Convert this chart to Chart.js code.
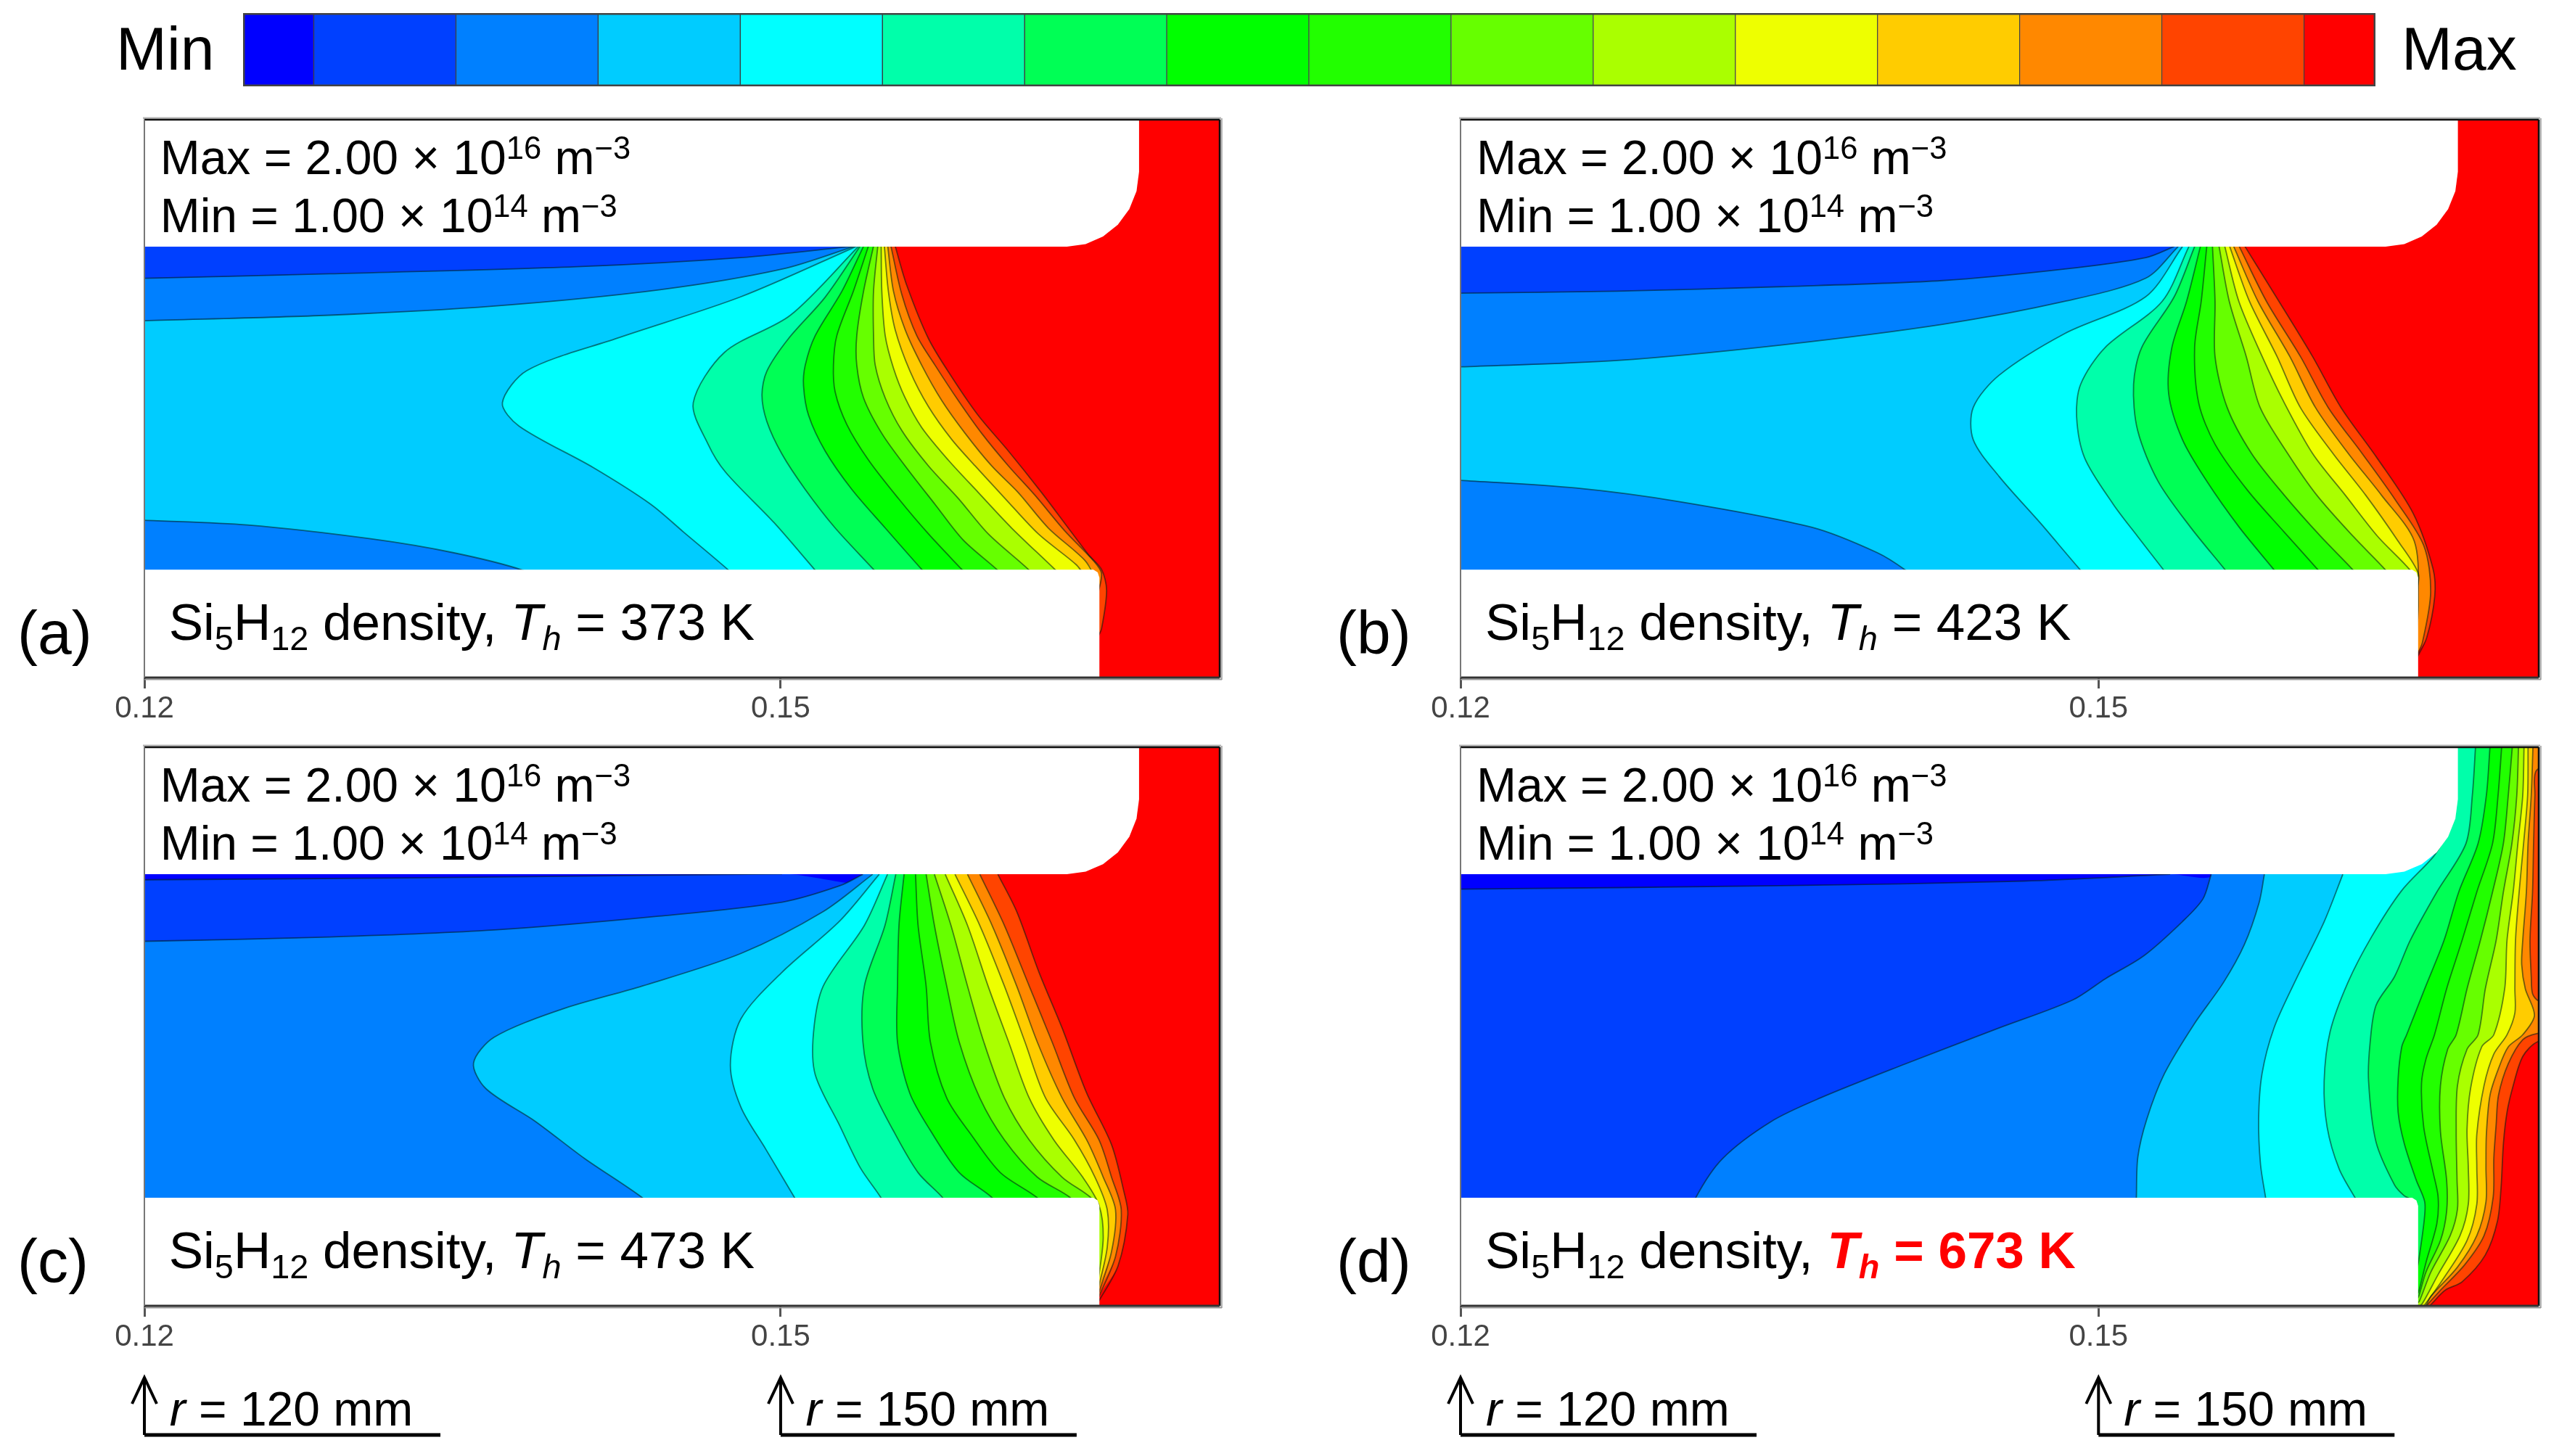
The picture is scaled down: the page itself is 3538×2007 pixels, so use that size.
<!DOCTYPE html>
<html>
<head>
<meta charset="utf-8">
<style>
  html, body { margin: 0; background: #fff; }
  #page { position: relative; width: 3538px; height: 2007px; overflow: hidden; font-family: "Liberation Sans", Arial, sans-serif; color: #000; }
  canvas { position: absolute; }
  .txt { position: absolute; white-space: nowrap; line-height: 1; }
  .txt sup { font-size: .66em; line-height: 0; vertical-align: .48em; }
  .txt sub { font-size: .66em; line-height: 0; vertical-align: -.3em; }
  .hot { color: #ff0000; font-weight: bold; }
</style>
</head>
<body>
<div id="page"></div>
<script src="https://cdn.jsdelivr.net/npm/chart.js@4/dist/chart.umd.js"></script>
<script>
/* =========================
   Data (r in mm, z in mm)
========================= */
const levelColors = ["#0000ff", "#0040ff", "#0080ff", "#00ccff", "#00ffff", "#00ffaa", "#00ff55", "#00ff00",
  "#22ff00", "#66ff00", "#aaff00", "#eeff00", "#ffcc00", "#ff8800", "#ff4400", "#ff0000"];
const barSpans = [0.5, 1, 1, 1, 1, 1, 1, 1, 1, 1, 1, 1, 1, 1, 1, 0.5];
const tickValues = [120, 150];
const arrowMarks = [120, 150];

const topWall = [[100, 20.28], [163.5, 20.28], [164.38, 20.4], [165.2, 20.75], [165.9, 21.31], [166.44, 22.04], [166.78, 22.89], [166.9, 23.8], [166.9, 40], [100, 40]];
const bottomWall = [[100, 5.08], [164.75, 5.08], [164.95, 4.95], [165.03, 4.7], [165.03, -10], [100, -10]];

// panel (a) 373 K
const a1 = [[120, 18.79], [128.73, 19.0], [140.4, 19.33], [148.1, 19.76], [153.43, 20.3]];
const a2up = [[120, 16.79], [128.73, 17.05], [136.5, 17.48], [144.25, 18.24], [150.07, 19.22], [153.5, 20.3]];
const a2low = [[120, 7.4], [124.85, 7.18], [130.67, 6.53], [134.55, 5.88], [137.85, 5.05], [138.8, 4.47]];
const a3 = [[153.6, 20.3], [148.13, 17.92], [142.3, 15.97], [138.04, 14.45], [136.88, 12.93], [137.66, 11.84], [141.15, 9.89], [143.87, 8.16], [145.42, 6.85], [147.55, 5.05], [148.2, 4.4]];
const a4 = [[153.68, 20.3], [150.46, 17.05], [147.36, 15.31], [145.88, 12.93], [146.58, 10.98], [147.4, 9.67], [149.69, 7.29], [151.63, 5.05], [152.2, 4.4]];
const a5 = [[153.75, 20.3], [152.1, 17.9], [150.37, 15.95], [149.35, 14.42], [149.12, 13.3], [149.35, 12.05], [150.06, 10.52], [151.16, 8.85], [152.57, 7.04], [154.38, 5.09], [155, 4.4]];
const a6 = [[153.91, 20.3], [152.89, 18.18], [151.63, 16.09], [151.16, 14.7], [151.08, 13.72], [151.32, 12.33], [152.1, 10.66], [153.36, 8.85], [154.93, 7.04], [156.65, 5.09], [157.3, 4.4]];
const a7 = [[154.14, 20.3], [153.43, 18.18], [152.65, 16.09], [152.49, 14.7], [152.57, 13.44], [153.12, 11.91], [154.14, 10.24], [155.55, 8.43], [156.97, 6.76], [158.54, 5.09], [159.2, 4.4]];
const a8 = [[154.38, 20.3], [153.91, 18.18], [153.59, 16.09], [153.59, 14.7], [153.91, 13.16], [154.77, 11.49], [155.87, 9.96], [157.28, 8.15], [158.6, 6.48], [160.19, 5.09], [160.9, 4.4]];
const a9 = [[154.58, 20.3], [154.38, 18.18], [154.38, 16.09], [154.46, 14.7], [154.93, 13.16], [155.71, 11.63], [156.97, 9.96], [158.38, 8.43], [159.79, 6.76], [161.68, 5.09], [162.3, 4.4]];
const a10 = [[154.74, 20.3], [154.77, 18.18], [154.93, 16.09], [155.32, 14.56], [155.87, 13.16], [156.65, 11.77], [157.9, 10.24], [159.32, 8.71], [160.89, 7.04], [162.93, 5.09], [163.6, 4.4]];
const a11 = [[154.89, 20.3], [155.08, 18.18], [155.4, 16.37], [156.1, 14.42], [156.97, 12.75], [158.07, 11.2], [159.17, 9.96], [160.58, 8.43], [162.15, 6.76], [163.95, 5.3], [164.4, 4.7], [164.9, 4.2]];
const a12 = [[155.05, 20.3], [155.32, 18.18], [155.87, 16.37], [156.65, 14.7], [157.6, 13.03], [158.7, 11.49], [159.95, 9.96], [161.2, 8.71], [162.62, 7.04], [164.35, 5.51], [164.9, 4.6]];
const a13 = [[155.2, 20.3], [155.71, 18.04], [156.42, 16.09], [157.28, 14.7], [158.38, 13.03], [159.48, 11.49], [160.74, 9.96], [162, 8.57], [163.4, 6.9], [164.74, 5.51], [165.13, 4.9], [164.95, 3.9]];
const a14 = [[155.4, 20.3], [155.95, 18.45], [156.97, 15.95], [158.07, 14.14], [159.32, 12.33], [160.74, 10.66], [162.3, 8.71], [163.56, 7.04], [164.5, 5.8], [165.13, 5.09], [165.37, 4.1], [165.13, 2.3], [164.95, 1.9]];

// panel (b) 423 K
const b1 = [[120, 18.09], [127.35, 18.18], [135, 18.39], [142.66, 18.68], [148.4, 19.22], [152.22, 19.76], [153.56, 20.28]];
const b2up = [[120, 14.62], [127.35, 14.92], [135, 15.64], [142.66, 16.62], [148.4, 17.7], [152.22, 18.79], [153.75, 20.28]];
const b2low = [[120, 9.28], [125.43, 8.92], [130.41, 8.26], [136.53, 7.07], [139.59, 5.88], [140.93, 5.05], [141.5, 4.5]];
const b3 = [[153.95, 20.28], [152.22, 17.92], [148.4, 16.18], [145.33, 14.23], [144.11, 12.71], [144.11, 11.19], [145.33, 9.46], [147.25, 7.29], [149.16, 5.05], [149.7, 4.5]];
const b4 = [[154.25, 20.28], [152.99, 17.7], [150.31, 15.53], [149.16, 13.8], [148.97, 12.28], [149.35, 10.33], [150.69, 8.16], [151.84, 6.64], [153.07, 5.05], [153.5, 4.5]];
const b5 = [[154.52, 20.28], [153.56, 17.92], [152.03, 15.53], [151.65, 13.8], [151.84, 11.63], [152.8, 9.24], [154.33, 7.07], [155.97, 5.05], [156.4, 4.5]];
const b6 = [[154.79, 20.28], [154.14, 17.7], [153.45, 15.53], [153.3, 13.36], [153.95, 11.19], [155.09, 9.24], [156.62, 7.07], [158.27, 5.05], [158.7, 4.5]];
const b7 = [[155.09, 20.28], [154.83, 17.7], [154.52, 15.53], [154.71, 12.93], [155.48, 10.98], [157.01, 8.81], [158.73, 6.85], [160.34, 5.05], [160.8, 4.5]];
const b8 = [[155.36, 20.28], [155.48, 17.7], [155.48, 15.1], [156.05, 12.71], [157.2, 10.54], [158.73, 8.59], [160.45, 6.64], [161.98, 5.05], [162.4, 4.5]];
const b9 = [[155.67, 20.28], [156.15, 17.7], [156.95, 15.1], [157.6, 12.71], [158.9, 10.54], [160.26, 8.59], [161.98, 6.64], [163.51, 5.05], [163.9, 4.5]];
const b10 = [[155.94, 20.28], [156.6, 17.7], [157.7, 15.1], [158.7, 13.0], [160.07, 10.54], [161.6, 8.59], [163.13, 6.64], [164.66, 5.05], [164.9, 4.5]];
const b11 = [[156.17, 20.28], [157.1, 17.7], [158.4, 15.1], [159.49, 12.71], [161.03, 10.54], [162.56, 8.59], [164.09, 6.42], [165.04, 4.9], [164.95, 4]];
const b12 = [[156.36, 20.28], [157.5, 17.7], [159.0, 15.1], [160.2, 12.71], [161.75, 10.54], [163.3, 8.59], [164.85, 6.42], [165.04, 3.6], [164.95, 1.87]];
const b13 = [[156.62, 20.28], [157.9, 17.7], [159.5, 15.1], [160.8, 12.71], [162.4, 10.54], [163.95, 8.37], [165.3, 6.2], [165.62, 4.03], [165.23, 1.65], [164.95, 1.0]];
const b14 = [[156.89, 20.28], [158.35, 17.92], [160.07, 15.1], [161.4, 12.71], [163.1, 10.33], [164.8, 7.72], [165.73, 5.12], [165.81, 3.82], [165.43, 1.87], [164.95, 0.89]];

// panel (c) 473 K
const c0 = [[120, 20.02], [132.61, 20.11], [150.07, 20.3]];
const c1 = [[120, 17.13], [128.73, 17.33], [136.49, 17.66], [144.25, 18.31], [150.07, 18.97], [152.79, 19.74], [153.88, 20.28]];
const c2 = [[154.34, 20.28], [152.01, 18.53], [148.13, 16.56], [143.48, 15.03], [139.66, 13.93], [136.49, 12.62], [135.52, 11.41], [136.1, 10.21], [138.43, 8.67], [140.76, 6.92], [143.48, 5.08], [144, 4.5]];
const c3 = [[154.65, 20.28], [152.79, 18.09], [150.07, 15.68], [148.13, 13.49], [147.63, 11.3], [148.13, 9.33], [149.3, 7.36], [150.66, 5.08], [151, 4.5]];
const c4 = [[155.04, 20.28], [153.95, 17.88], [152.01, 15.03], [151.55, 12.84], [151.63, 10.87], [152.79, 8.46], [153.76, 6.48], [154.73, 5.08], [155, 4.5]];
const c5 = [[155.43, 20.28], [154.92, 17.88], [153.95, 15.03], [153.88, 12.4], [154.34, 10.21], [155.31, 8.24], [156.48, 6.26], [157.64, 5.08], [158, 4.5]];
const c6 = [[155.82, 20.28], [155.58, 17.88], [155.51, 15.03], [155.51, 12.4], [156.09, 9.99], [157.06, 8.24], [158.42, 6.26], [159.97, 5.08], [160.3, 4.5]];
const c7 = [[156.36, 20.28], [156.48, 17.88], [156.86, 15.03], [157.06, 12.4], [157.83, 9.77], [159, 8.02], [160.36, 6.26], [162.1, 5.08], [162.5, 4.5]];
const c8 = [[156.86, 20.28], [157.25, 17.88], [157.83, 15.03], [158.42, 12.4], [159.39, 9.77], [160.55, 7.8], [162.1, 6.05], [163.66, 5.08], [164, 4.5]];
const c9 = [[157.25, 20.28], [158.03, 17.88], [158.81, 15.03], [159.58, 12.4], [160.55, 9.77], [161.72, 7.8], [163.27, 6.05], [164.63, 5.08], [164.95, 4.51]];
const c10 = [[157.76, 20.28], [158.81, 17.88], [159.78, 15.03], [160.75, 12.4], [161.72, 9.77], [162.88, 7.8], [164.24, 6.05], [165.01, 4.73], [165.21, 3.2], [164.95, 1.01]];
const c11 = [[158.22, 20.28], [159.39, 17.88], [160.55, 15.03], [161.52, 12.4], [162.49, 9.77], [163.85, 7.8], [164.82, 6.05], [165.4, 4.51], [165.4, 2.76], [164.95, 0.68]];
const c12 = [[158.81, 20.28], [159.97, 17.88], [161.13, 15.03], [162.1, 12.4], [163.27, 9.77], [164.43, 7.8], [165.21, 6.05], [165.79, 4.51], [165.6, 2.54], [164.95, 0.46]];
const c13 = [[159.39, 20.28], [160.55, 17.88], [161.72, 15.03], [162.8, 12.4], [163.85, 9.77], [165.01, 7.8], [165.6, 6.05], [166.06, 4.51], [165.79, 2.32], [164.95, 0.31]];
const c14 = [[160.24, 20.28], [161.13, 18.53], [162.18, 15.68], [163.27, 13.06], [164.43, 10], [165.6, 7.58], [166.18, 5.39], [166.37, 4.29], [165.91, 1.88], [164.95, 0.13]];

// panel (d) 673 K
const d0 = [[120, 19.58], [135, 19.74], [146.48, 19.96], [153.37, 20.28]];
const d1 = [[155.3, 20.28], [154.91, 19.12], [153.94, 18.05], [152.13, 16.45], [150.32, 15.37], [148.78, 14.37], [145.33, 13.06], [140.74, 11.3], [136.92, 9.77], [134.62, 8.67], [132.32, 6.92], [131.06, 5.08], [130.79, 4.07]];
const d2 = [[157.8, 20.28], [157.55, 18.94], [156.86, 16.98], [155.88, 15.2], [154.49, 13.23], [153.1, 10.91], [152.27, 8.77], [151.85, 6.99], [151.78, 5.07], [151.75, 4.2]];
const d3 = [[161.49, 20.28], [160.61, 18.05], [159.22, 15.2], [158.25, 13.05], [157.69, 10.91], [157.53, 8.77], [157.62, 6.63], [157.86, 5.07], [158, 4.2]];
const d4 = [[166.3, 21.98], [165.74, 21.1], [164.23, 19.48], [162.84, 17.34], [161.73, 15.2], [160.89, 12.88], [160.61, 10.55], [160.75, 8.41], [161.31, 6.45], [162.07, 5.07], [162.6, 4.2]];
const d5 = [[167.73, 26.28], [167.58, 24], [167.28, 21.73], [165.91, 19.45], [164.66, 17.18], [163.92, 15.47], [163.05, 14.12], [162.77, 12.34], [162.7, 10.55], [163.05, 7.7], [163.92, 5.68], [164.38, 5.17], [164.7, 5.0], [164.95, 4.7]];
const d6 = [[168.41, 26.28], [168.24, 24], [167.85, 21.73], [166.94, 19.45], [166.25, 17.18], [165.34, 14.9], [164.49, 12.74], [164.26, 12.17], [164.09, 10.69], [164.09, 9.1], [164.38, 7.62], [164.94, 5.91], [165.34, 4.89], [165.31, 3.98], [165.06, 2.16], [164.95, 1.6]];
const d7 = [[168.96, 26.28], [168.79, 24], [168.53, 21.73], [167.79, 19.45], [167.1, 17.18], [166.37, 14.9], [165.8, 12.74], [165.4, 11.6], [165.19, 10.46], [165.29, 8.42], [165.74, 6.25], [165.97, 5.12], [165.91, 3.86], [165.4, 2.04], [165.06, 0.68], [164.95, 0.5]];
const d8 = [[169.46, 26.28], [169.27, 24], [169.04, 21.73], [168.53, 19.45], [167.96, 17.18], [167.33, 14.9], [166.82, 12.74], [166.42, 12.06], [166.08, 10.35], [166.08, 8.19], [166.37, 5.91], [166.37, 4.43], [166.08, 3.07], [165.4, 1.59], [165.06, 0.45], [164.95, 0.3]];
const d9 = [[169.75, 26.28], [169.67, 24], [169.44, 21.73], [169.04, 19.45], [168.7, 17.18], [168.19, 14.9], [167.85, 12.74], [167.33, 12.06], [166.88, 10.35], [166.82, 8.19], [166.86, 5.91], [166.88, 4.55], [166.54, 3.3], [165.63, 1.59], [165.09, 0.22], [164.95, 0.1]];
const d10 = [[170.01, 26.28], [169.95, 24], [169.72, 21.73], [169.5, 19.45], [169.21, 17.18], [169.1, 14.9], [168.59, 12.74], [168.02, 12.17], [167.5, 10.24], [167.33, 8.3], [167.39, 6.48], [167.39, 4.78], [167, 3.3], [165.97, 1.47], [165.23, 0.11], [165, -0.1]];
const d11 = [[170.2, 26.28], [170.18, 24], [169.99, 21.73], [169.78, 19.45], [169.61, 17.18], [169.58, 14.9], [169.58, 13.76], [169.21, 12.74], [168.59, 11.83], [168.13, 10.35], [167.79, 8.07], [167.79, 6.48], [167.79, 4.78], [167.33, 3.07], [166.2, 1.25], [165.34, 0.05], [165.1, -0.2]];
const d12 = [[170.43, 26.28], [170.35, 24], [170.2, 21.73], [170.12, 19.45], [169.95, 17.18], [169.9, 16.04], [170.07, 14.9], [170.5, 13.65], [169.95, 12.74], [169.27, 12.17], [168.81, 11.15], [168.41, 9.9], [168.24, 8.07], [168.22, 6.48], [168.22, 4.89], [167.79, 3.3], [166.88, 1.82], [165.63, 0.45], [165.4, 0.02], [165.2, -0.2]];
const d13 = [[171.5, 25.6], [170.58, 25.14], [170.52, 24], [170.46, 21.73], [170.41, 19.45], [170.29, 17.18], [170.35, 15.47], [170.41, 14.67], [170.7, 14.33], [171.5, 14.3], [171.5, 12.85], [170.63, 12.8], [169.95, 12.51], [169.27, 11.38], [168.81, 9.9], [168.7, 8.53], [168.59, 6.94], [168.56, 5.12], [168.13, 3.3], [167.22, 1.93], [166.03, 0.68], [165.46, 0.05], [165.2, -0.2]];
const d14 = [[171.5, 12.42], [170.63, 12.4], [169.95, 11.72], [169.5, 10.35], [169.21, 9.1], [169.04, 7.62], [168.93, 5.57], [168.76, 3.98], [168.19, 2.39], [167.1, 1.13], [166.31, 0.74], [165.68, 0.11], [165.4, -0.2]];

// base = lowest band showing, down = lines ending on the lower wall, up = lines from r axis to the upper wall
const panelA = { base: 1, up: { 1: a1, 2: a2up }, down: { 2: a2low, 3: a3, 4: a4, 5: a5, 6: a6, 7: a7, 8: a8, 9: a9, 10: a10, 11: a11, 12: a12, 13: a13, 14: a14 } };
const panelB = { base: 1, up: { 1: b1, 2: b2up }, down: { 2: b2low, 3: b3, 4: b4, 5: b5, 6: b6, 7: b7, 8: b8, 9: b9, 10: b10, 11: b11, 12: b12, 13: b13, 14: b14 } };
const panelC = { base: 0, up: { 0: c0, 1: c1 }, down: { 2: c2, 3: c3, 4: c4, 5: c5, 6: c6, 7: c7, 8: c8, 9: c9, 10: c10, 11: c11, 12: c12, 13: c13, 14: c14 } };
const panelD = { base: 0, up: { 0: d0 }, down: { 1: d1, 2: d2, 3: d3, 4: d4, 5: d5, 6: d6, 7: d7, 8: d8, 9: d9, 10: d10, 11: d11, 12: d12, 13: d13, 14: d14 } };

/* =========================
   Helpers
========================= */
const page = document.getElementById("page");
const R_MIN = 120, R_MAX = 170.7, Z_MAX = 26.25;
const toXY = (pts) => pts.map(([x, y]) => ({ x, y }));

function addText(html, x, baseline, size) {
  const el = document.createElement("div");
  el.className = "txt";
  el.style.left = x + "px";
  el.style.top = (baseline - 0.8465 * size) + "px";
  el.style.fontSize = size + "px";
  el.innerHTML = html;
  page.appendChild(el);
}

function addCanvas(left, top, w, h) {
  const c = document.createElement("canvas");
  c.width = w; c.height = h;
  c.style.left = left + "px"; c.style.top = top + "px";
  c.style.width = w + "px"; c.style.height = h + "px";
  page.appendChild(c);
  return c;
}

// hidden continuation of a line past its upper end, keeps the fill on the line
function lead(end, inner) {
  return [end[0] + (end[0] - inner[0]) * 0.3, end[1] + (end[1] - inner[1]) * 0.3];
}

// closed outline of everything above one contour level
function regionOf(down, up) {
  const pts = [];
  const upper = up ? up.slice().reverse() : down;
  const before = lead(upper[0], upper[1]);
  if (down) {
    if (down[0][0] === R_MIN) pts.push([110, down[0][1]]);
    if (!up) pts.push(before);
    pts.push(...down);
    pts.push([down[down.length - 1][0], -10]);
  } else {
    pts.push([110, -10]);
  }
  pts.push([190, -10], [190, 40], [before[0], 40]);
  if (up) {
    pts.push(before);
    pts.push(...upper);
    pts.push([110, up[0][1]]);
  }
  return toXY(pts);
}

function panelDatasets(p) {
  const fillSet = (pts, color, tension) => ({
    data: pts, backgroundColor: color, borderWidth: 0, borderColor: color,
    showLine: true, fill: "shape", pointRadius: 0, tension: tension
  });
  const sets = [fillSet(toXY([[110, -10], [190, -10], [190, 40], [110, 40]]), levelColors[p.base], 0)];
  const lines = [];
  for (let k = p.base; k < 15; k++) {
    const down = p.down[k], up = p.up[k];
    if (!down && !up) continue;
    sets.push(fillSet(regionOf(down, up), levelColors[k + 1], 0.3));
    [down, up].forEach((piece) => {
      if (piece) lines.push({
        data: toXY(piece), borderColor: "rgba(0,30,20,0.55)", borderWidth: 1.8,
        showLine: true, fill: false, pointRadius: 0, tension: 0.3
      });
    });
  }
  sets.push(...lines);
  sets.push(fillSet(toXY(topWall), "#ffffff", 0));
  sets.push(fillSet(toXY(bottomWall), "#ffffff", 0));
  // later entry paints on top
  sets.forEach((s, i) => { s.order = 1000 - i; });
  return sets;
}

const clipToArea = {
  id: "clipToArea",
  beforeDatasetsDraw(chart) {
    const a = chart.chartArea, ctx = chart.ctx;
    ctx.save();
    ctx.beginPath();
    ctx.rect(a.left, a.top, a.right - a.left, a.bottom - a.top);
    ctx.clip();
  },
  afterDatasetsDraw(chart) { chart.ctx.restore(); }
};

function strokeLine(ctx, x0, y0, x1, y1, color, width) {
  ctx.strokeStyle = color; ctx.lineWidth = width;
  ctx.beginPath(); ctx.moveTo(x0, y0); ctx.lineTo(x1, y1); ctx.stroke();
}

const frame = {
  id: "frame",
  afterDraw(chart) {
    const a = chart.chartArea, ctx = chart.ctx;
    ctx.save();
    strokeLine(ctx, a.left - 2, a.top - 2, a.right + 2, a.top - 2, "#b5b5b5", 3);
    strokeLine(ctx, a.right + 2.5, a.top - 2, a.right + 2.5, a.bottom + 3, "#b5b5b5", 3);
    strokeLine(ctx, a.left, a.bottom + 2.5, a.right + 3, a.bottom + 2.5, "#9a9a9a", 2);
    strokeLine(ctx, a.left, a.top, a.right, a.top, "#111", 2.5);
    strokeLine(ctx, a.right, a.top, a.right, a.bottom, "#111", 2.5);
    strokeLine(ctx, a.left, a.bottom, a.right, a.bottom, "#333", 3);
    strokeLine(ctx, a.left, a.top, a.left, a.bottom, "#777", 2);
    ctx.restore();
  }
};

const arrows = {
  id: "arrows",
  afterDraw(chart) {
    const marks = chart.options.plugins.arrows.marks;
    if (!marks) return;
    const ctx = chart.ctx, a = chart.chartArea, x = chart.scales.x;
    ctx.save();
    marks.forEach((m) => {
      const px = x.getPixelForValue(m), y0 = a.bottom + 99, y1 = a.bottom + 178;
      strokeLine(ctx, px, y0, px, y1, "#000", 4);
      strokeLine(ctx, px, y1, px + 408, y1, "#000", 5);
      ctx.strokeStyle = "#000"; ctx.lineWidth = 4;
      ctx.beginPath();
      ctx.moveTo(px - 17, y0 + 36); ctx.lineTo(px, y0); ctx.lineTo(px + 17, y0 + 36);
      ctx.stroke();
    });
    ctx.restore();
  }
};

/* =========================
   Charts
========================= */
function drawPanel(p, left, top, right, bottom, marks) {
  const extra = marks ? 190 : 0;
  const w = right - left + 80, h = bottom - top + 20 + 70 + extra;
  const canvas = addCanvas(left - 60, top - 10, w, h);
  return new Chart(canvas, {
    type: "scatter",
    data: { datasets: panelDatasets(p) },
    options: {
      responsive: false, animation: false, devicePixelRatio: 1,
      layout: { padding: { left: 60, right: 20, top: 10, bottom: extra } },
      plugins: { legend: { display: false }, tooltip: { enabled: false }, arrows: { marks: marks } },
      scales: {
        x: {
          type: "linear", min: R_MIN, max: R_MAX,
          afterBuildTicks: (axis) => { axis.ticks = tickValues.map((v) => ({ value: v })); },
          afterFit: (axis) => { axis.height = 80; },
          grid: { drawOnChartArea: false, tickLength: 15, tickWidth: 3, tickColor: "#555" },
          border: { display: false },
          ticks: {
            callback: (v) => (v / 1000).toFixed(2), autoSkip: false, maxRotation: 0, padding: 3,
            color: "#444", font: { family: "Liberation Sans", size: 42 }
          }
        },
        y: { type: "linear", min: 0, max: Z_MAX, display: false }
      }
    },
    plugins: [clipToArea, frame, arrows]
  });
}

function drawColorBar() {
  const canvas = addCanvas(335, 18, 2939, 101);
  new Chart(canvas, {
    type: "bar",
    data: {
      labels: [""],
      datasets: levelColors.map((c, i) => ({
        data: [barSpans[i]], backgroundColor: c, borderColor: "rgba(0,0,0,0.75)", borderWidth: 1.5,
        barPercentage: 1, categoryPercentage: 1
      }))
    },
    options: {
      indexAxis: "y", responsive: false, animation: false, devicePixelRatio: 1,
      plugins: { legend: { display: false }, tooltip: { enabled: false } },
      scales: {
        x: { stacked: true, min: 0, max: 15, display: false },
        y: { stacked: true, display: false }
      }
    },
    plugins: [{
      id: "barFrame",
      afterDraw(chart) {
        const a = chart.chartArea, ctx = chart.ctx;
        ctx.save();
        ctx.strokeStyle = "#444"; ctx.lineWidth = 5;
        ctx.strokeRect(a.left, a.top, a.right - a.left, a.bottom - a.top);
        ctx.restore();
      }
    }]
  });
}

drawColorBar();
addText("Min", 160, 96, 84);
addText("Max", 3310, 96, 84);

const maxLine = "Max = 2.00 × 10<sup>16</sup> m<sup>−3</sup>";
const minLine = "Min = 1.00 × 10<sup>14</sup> m<sup>−3</sup>";
const species = "Si<sub>5</sub>H<sub>12</sub> density, ";

const cellA = drawPanel(panelA, 198.7, 165, 1681, 934);
const cellB = drawPanel(panelB, 2013, 165, 3499, 934);
const cellC = drawPanel(panelC, 198.7, 1030, 1681, 1800, arrowMarks);
const cellD = drawPanel(panelD, 2013, 1030, 3499, 1800, arrowMarks);

function panelText(letter, caption, lx, left, top, bottom) {
  addText(maxLine, left + 22, top + 75, 66);
  addText(minLine, left + 22, top + 155, 66);
  addText(species + caption, left + 34, bottom - 52, 71);
  addText(letter, lx, bottom - 33, 84);
}

panelText("(a)", "<i>T<sub>h</sub></i> = 373 K", 24, 198.7, 165, 934);
panelText("(b)", "<i>T<sub>h</sub></i> = 423 K", 1842, 2013, 165, 934);
panelText("(c)", "<i>T<sub>h</sub></i> = 473 K", 24, 198.7, 1030, 1800);
panelText("(d)", "<span class=\"hot\"><i>T<sub>h</sub></i> = 673 K</span>", 1842, 2013, 1030, 1800);

[[cellC, 138.7], [cellD, 1953]].forEach(([chart, canvasLeft]) => {
  arrowMarks.forEach((m) => {
    addText("<i>r</i> = " + m + " mm", chart.scales.x.getPixelForValue(m) + canvasLeft + 35, 1965, 66);
  });
});
</script>
</body>
</html>
